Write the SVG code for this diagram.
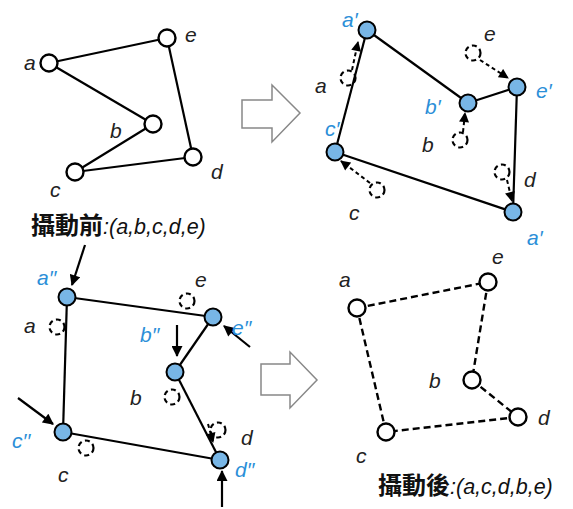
<svg xmlns="http://www.w3.org/2000/svg" width="573" height="509" viewBox="0 0 573 509">
<defs>
<marker id="ah" viewBox="0 0 10 10" refX="9" refY="5" markerWidth="5.5" markerHeight="5" orient="auto" markerUnits="strokeWidth">
<path d="M0,0 L10,5 L0,10 z" fill="#000"/>
</marker>
<style>
.e{stroke:#000;stroke-width:2.2;fill:none}
.de{stroke:#000;stroke-width:2.4;fill:none;stroke-dasharray:7 4}
.n{fill:#fff;stroke:#000;stroke-width:2.4}
.b{fill:#78b6e6;stroke:#000;stroke-width:2}
.o{fill:none;stroke:#000;stroke-width:2.2;stroke-dasharray:5 3.5}
.t{font-family:"Liberation Sans",Arial,sans-serif;font-style:italic;font-size:21px;fill:#222}
.bl{font-family:"Liberation Sans",Arial,sans-serif;font-style:italic;font-size:21px;fill:#2b8fd8}
.h{font-family:"Liberation Sans","Noto Sans CJK TC",sans-serif;fill:#111}
.hc{font-weight:bold;font-size:24px}
.hl{font-style:italic;font-size:21.5px}
.ar{stroke:#000;stroke-width:2.2;fill:none;marker-end:url(#ah)}
.da{stroke:#000;stroke-width:2;fill:none;stroke-dasharray:4 3;marker-end:url(#ah)}
.big{fill:#fff;stroke:#888;stroke-width:1.5}
</style>
</defs>

<!-- big arrows -->
<g id="arrow1"><polygon class="big" points="242,100 272,100 272,85 300,113 272,142 272,128 242,128"/></g>
<g id="arrow2"><polygon class="big" points="261,364 290,364 290,352 317,380 290,408 290,395 261,395"/></g>

<!-- connectors -->
<g id="connectors">
  <!-- top-left -->
  <line class="e" x1="49" y1="63" x2="167" y2="38"/>
  <line class="e" x1="49" y1="63" x2="153" y2="124"/>
  <line class="e" x1="153" y1="124" x2="75" y2="172"/>
  <line class="e" x1="75" y1="172" x2="193" y2="157"/>
  <line class="e" x1="193" y1="157" x2="167" y2="38"/>
  <!-- top-right -->
  <line class="e" x1="367" y1="30" x2="468" y2="103"/>
  <line class="e" x1="468" y1="103" x2="517" y2="87"/>
  <line class="e" x1="517" y1="87" x2="513" y2="212"/>
  <line class="e" x1="513" y1="212" x2="335" y2="152"/>
  <line class="e" x1="335" y1="152" x2="367" y2="30"/>
  <line class="da" x1="352" y1="70" x2="358" y2="42"/>
  <line class="da" x1="480" y1="60" x2="508" y2="78"/>
  <line class="da" x1="463" y1="132" x2="465" y2="113"/>
  <line class="da" x1="507" y1="180" x2="512" y2="201"/>
  <line class="da" x1="370" y1="183" x2="341" y2="161"/>
  <!-- bottom-left -->
  <line class="e" x1="67" y1="297" x2="213" y2="317"/>
  <line class="e" x1="213" y1="317" x2="175" y2="372"/>
  <line class="e" x1="175" y1="372" x2="220" y2="460"/>
  <line class="e" x1="220" y1="460" x2="63" y2="432"/>
  <line class="e" x1="63" y1="432" x2="67" y2="297"/>
  <line class="ar" x1="85" y1="245" x2="72" y2="285"/>
  <line class="ar" x1="250" y1="347" x2="224" y2="326"/>
  <line class="ar" x1="177" y1="325" x2="177" y2="356"/>
  <line class="ar" x1="18" y1="398" x2="53" y2="424"/>
  <line class="ar" x1="222" y1="507" x2="222" y2="471"/>
  <line class="da" x1="208" y1="424" x2="213" y2="442"/>
  <!-- bottom-right -->
  <line class="de" x1="357" y1="308" x2="488" y2="282"/>
  <line class="de" x1="488" y1="282" x2="472" y2="380"/>
  <line class="de" x1="472" y1="380" x2="518" y2="417"/>
  <line class="de" x1="518" y1="417" x2="386" y2="432"/>
  <line class="de" x1="386" y1="432" x2="357" y2="308"/>
</g>

<!-- top-left nodes -->
<g id="tl-a"><circle class="n" cx="49" cy="63" r="8.5"/><text class="t" x="24" y="70">a</text></g>
<g id="tl-e"><circle class="n" cx="167" cy="38" r="8.5"/><text class="t" x="185" y="42">e</text></g>
<g id="tl-b"><circle class="n" cx="153" cy="124" r="8.5"/><text class="t" x="110" y="138">b</text></g>
<g id="tl-d"><circle class="n" cx="193" cy="157" r="8.5"/><text class="t" x="211" y="179">d</text></g>
<g id="tl-c"><circle class="n" cx="75" cy="172" r="8.5"/><text class="t" x="50" y="197">c</text></g>

<!-- top-right nodes -->
<g id="tr-a-old"><circle class="o" cx="348" cy="78" r="7.5"/><text class="t" x="315" y="93">a</text></g>
<g id="tr-e-old"><circle class="o" cx="473" cy="53" r="7.5"/><text class="t" x="484" y="41">e</text></g>
<g id="tr-b-old"><circle class="o" cx="460" cy="140" r="7.5"/><text class="t" x="422" y="152">b</text></g>
<g id="tr-d-old"><circle class="o" cx="502" cy="172" r="7.5"/><text class="t" x="524" y="187">d</text></g>
<g id="tr-c-old"><circle class="o" cx="377" cy="190" r="7.5"/><text class="t" x="349" y="220">c</text></g>
<g id="tr-a"><circle class="b" cx="367" cy="30" r="8.5"/><text class="bl" x="342" y="27">a′</text></g>
<g id="tr-e"><circle class="b" cx="517" cy="87" r="8.5"/><text class="bl" x="536" y="98">e′</text></g>
<g id="tr-b"><circle class="b" cx="468" cy="103" r="8.5"/><text class="bl" x="425" y="114">b′</text></g>
<g id="tr-c"><circle class="b" cx="335" cy="152" r="8.5"/><text class="bl" x="325" y="136">c′</text></g>
<g id="tr-d"><circle class="b" cx="513" cy="212" r="8.5"/><text class="bl" x="527" y="245">a′</text></g>

<!-- titles -->
<g id="title1"><text class="h" x="31" y="234"><tspan class="hc">攝動前</tspan><tspan class="hl">:(a,b,c,d,e)</tspan></text></g>
<g id="title2"><text class="h" x="378" y="494"><tspan class="hc">攝動後</tspan><tspan class="hl">:(a,c,d,b,e)</tspan></text></g>

<!-- bottom-left nodes -->
<g id="bl-a-old"><circle class="o" cx="57" cy="327" r="7.5"/><text class="t" x="24" y="333">a</text></g>
<g id="bl-e-old"><circle class="o" cx="187" cy="301" r="7.5"/><text class="t" x="195" y="287">e</text></g>
<g id="bl-b-old"><circle class="o" cx="172" cy="397" r="7.5"/><text class="t" x="130" y="405">b</text></g>
<g id="bl-d-old"><circle class="o" cx="218" cy="430" r="7.5"/><text class="t" x="241" y="445">d</text></g>
<g id="bl-c-old"><circle class="o" cx="86" cy="448" r="7.5"/><text class="t" x="58" y="482">c</text></g>
<g id="bl-a"><circle class="b" cx="67" cy="297" r="8.5"/><text class="bl" x="37" y="285">a′′</text></g>
<g id="bl-e"><circle class="b" cx="213" cy="317" r="8.5"/><text class="bl" x="232" y="335">e′′</text></g>
<g id="bl-b"><circle class="b" cx="175" cy="372" r="8.5"/><text class="bl" x="140" y="342">b′′</text></g>
<g id="bl-c"><circle class="b" cx="63" cy="432" r="8.5"/><text class="bl" x="12" y="448">c′′</text></g>
<g id="bl-d"><circle class="b" cx="220" cy="460" r="8.5"/><text class="bl" x="235" y="477">d′′</text></g>

<!-- bottom-right nodes -->
<g id="br-a"><circle class="n" cx="357" cy="308" r="8.5"/><text class="t" x="339" y="287">a</text></g>
<g id="br-e"><circle class="n" cx="488" cy="282" r="8.5"/><text class="t" x="492" y="264">e</text></g>
<g id="br-b"><circle class="n" cx="472" cy="380" r="8.5"/><text class="t" x="429" y="388">b</text></g>
<g id="br-d"><circle class="n" cx="518" cy="417" r="8.5"/><text class="t" x="538" y="425">d</text></g>
<g id="br-c"><circle class="n" cx="386" cy="432" r="8.5"/><text class="t" x="356" y="463">c</text></g>
</svg>
